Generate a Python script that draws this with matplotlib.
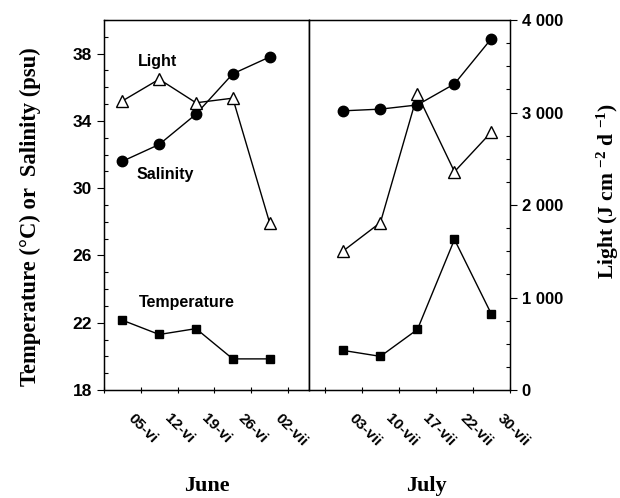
import matplotlib
matplotlib.use("Agg")
import matplotlib.pyplot as plt
import matplotlib.transforms as mtransforms

plt.rcParams['font.family'] = ['Liberation Sans', 'DejaVu Sans']
plt.rcParams['mathtext.fontset'] = 'custom'
plt.rcParams['mathtext.rm'] = 'Liberation Serif:bold'
plt.rcParams['mathtext.default'] = 'rm'

# days counted from the first (unlabelled) tick of each panel
june_days = [3.5, 10.5, 17.5, 24.5, 31.5]
july_days = [3.5, 10.5, 17.5, 24.5, 31.5]

june_salinity = [31.6, 32.6, 34.4, 36.8, 37.8]
june_temp = [22.15, 21.3, 21.65, 19.85, 19.85]
june_light = [3125, 3360, 3105, 3155, 1810]

july_salinity = [34.6, 34.7, 34.95, 36.2, 38.9]
july_temp = [20.35, 20.0, 21.6, 26.95, 22.5]
july_light = [1505, 1810, 3195, 2360, 2790]

june_ticks = [0, 7, 14, 21, 28, 35]
june_labels = ['', '05-vi', '12-vi', '19-vi', '26-vi', '02-vii']
july_ticks = [0, 7, 14, 21, 28, 35]
july_labels = ['', '03-vii', '10-vii', '17-vii', '22-vii', '30-vii']

W, H = 620, 498
fig = plt.figure(figsize=(6.2, 4.98), dpi=100)

def box(x0, x1, y0=20, y1=390):
    return [x0 / W, 1 - y1 / H, (x1 - x0) / W, (y1 - y0) / H]

axJ = fig.add_axes(box(104, 309))
axL = fig.add_axes(box(309, 510))
axJ2 = axJ.twinx()
axL2 = axL.twinx()

def draw(ax, ax2, days, sal, temp, light):
    ax.plot(days, sal, '-o', color='black', lw=1, ms=7.5, zorder=3)
    ax.plot(days, temp, '-s', color='black', lw=1, ms=6, zorder=3)
    ax2.plot(days, light, '-^', color='black', lw=1, ms=8,
             mfc='white', mec='black', mew=1)
    ax.set_ylim(18, 40)
    ax2.set_ylim(0, 4000)
    for s in ax.spines.values():
        s.set_linewidth(1)

draw(axJ, axJ2, june_days, june_salinity, june_temp, june_light)
draw(axL, axL2, july_days, july_salinity, july_temp, july_light)

axJ.set_xlim(0, 39)
axL.set_xlim(-3, 35)

shift = mtransforms.ScaledTranslation(-6 / 100, 0, fig.dpi_scale_trans)
for ax, ticks, labels in [(axJ, june_ticks, june_labels), (axL, july_ticks, july_labels)]:
    ax.set_xticks(ticks)
    ax.set_xticklabels(labels, rotation=-45, ha='left', va='top',
                       rotation_mode='anchor', fontsize=11, fontweight='bold')
    ax.tick_params(axis='x', direction='inout', length=5, width=0.8, pad=13)
    for lab in ax.get_xticklabels():
        lab.set_transform(lab.get_transform() + shift)

# left axis of June panel
axJ.set_yticks([18, 22, 26, 30, 34, 38])
axJ.set_yticks(range(18, 41), minor=True)
axJ.tick_params(axis='y', which='major', direction='out', length=5, width=0.8,
                labelsize=12.5)
axJ.tick_params(axis='y', which='minor', direction='in', length=3, width=0.8)
for lab in axJ.get_yticklabels():
    lab.set_fontweight('bold')
axJ2.set_yticks([])

# July panel: no left ticks, light axis on right
axL.set_yticks([])
axL2.set_yticks([0, 1000, 2000, 3000, 4000])
axL2.set_yticklabels(['0', '1 000', '2 000', '3 000', '4 000'],
                     fontsize=12, fontweight='bold')
axL2.set_yticks(range(0, 4001, 250), minor=True)
axL2.tick_params(axis='y', which='major', direction='out', length=5, width=0.8)
axL2.tick_params(axis='y', which='minor', direction='in', length=3, width=0.8)

# series names
axJ.text(10.1, 37.55, 'Light', fontsize=11.5, fontweight='bold', ha='center', va='center')
axJ.text(11.6, 30.8, 'Salinity', fontsize=11.5, fontweight='bold', ha='center', va='center')
axJ.text(15.8, 23.2, 'Temperature', fontsize=11.5, fontweight='bold', ha='center', va='center')

serif = ['Liberation Serif', 'DejaVu Serif']
fig.text(30 / W, 1 - 217 / H, 'Temperature (°C) or  Salinity (psu)', rotation=90,
         ha='center', va='center', fontsize=16.3, fontweight='bold', family=serif)
fig.text(608 / W, 1 - 191 / H, 'Light (J cm $^{-2}$ d $^{-1}$)', rotation=90,
         ha='center', va='center', fontsize=15.5, fontweight='bold', family=serif)
fig.text(207 / W, 1 - 486 / H, 'June', ha='center', va='center',
         fontsize=16, fontweight='bold', family=serif)
fig.text(426 / W, 1 - 486 / H, 'July', ha='center', va='center',
         fontsize=16, fontweight='bold', family=serif)

fig.savefig('out.png', dpi=100)
